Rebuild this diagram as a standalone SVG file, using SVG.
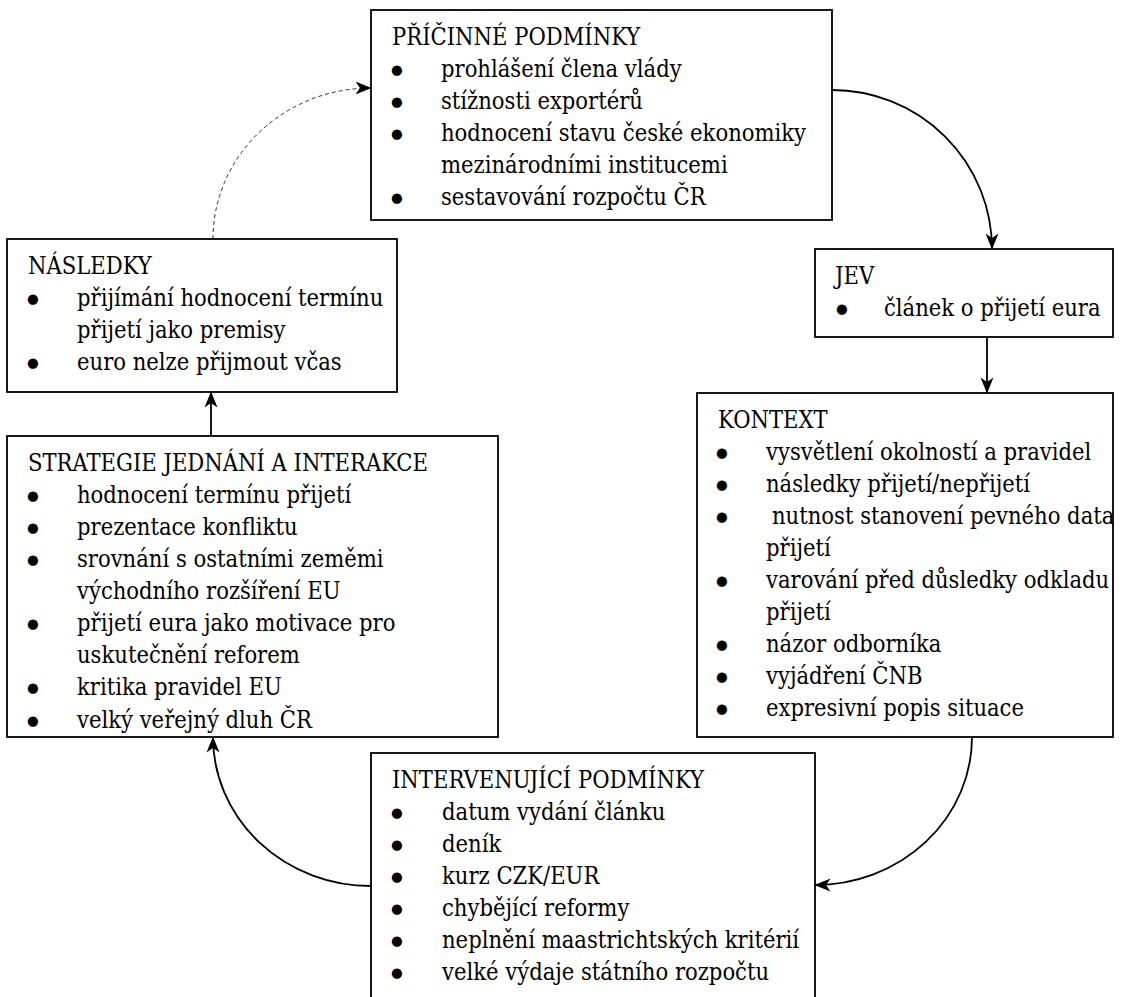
<svg xmlns="http://www.w3.org/2000/svg" width="1123" height="997" viewBox="0 0 1123 997">
<style>
.box{fill:#fff;stroke:#000;stroke-width:1.8}
.t{font-family:'DejaVu Serif Condensed','DejaVu Serif',serif;font-stretch:condensed;font-size:23.5px;fill:#000}
.b{font-family:'DejaVu Sans',sans-serif;font-size:13.5px;fill:#000;text-anchor:middle}
.c{fill:none;stroke:#000;stroke-width:1.8}
.d{fill:none;stroke:#333;stroke-width:1;stroke-dasharray:4 3}
</style>
<defs>
<marker id="arr" markerUnits="userSpaceOnUse" markerWidth="16" markerHeight="14" viewBox="0 0 16 14" refX="15.5" refY="7" orient="auto">
<path d="M0,0.5 L16,7 L0,13.5 L4.5,7 z" fill="#000"/>
</marker>
<clipPath id="clipS"><rect x="7" y="436" width="491" height="300"/></clipPath>
</defs>
<rect width="1123" height="997" fill="#fff"/>

<g id="connectors">
<path class="c" d="M832,90 A160,159 0 0 1 992,249" marker-end="url(#arr)"/>
<path class="c" d="M987,337 L987,393" marker-end="url(#arr)"/>
<path class="c" d="M972,737 A157,148 0 0 1 815,885" marker-end="url(#arr)"/>
<path class="c" d="M371,886 A158,149 0 0 1 213,737" marker-end="url(#arr)"/>
<path class="c" d="M211,436 L211,392" marker-end="url(#arr)"/>
<path class="d" d="M213,239 A158,151 0 0 1 371,88" marker-end="url(#arr)"/>
</g>

<g id="pricinne">
<rect class="box" x="371" y="10" width="461" height="210"/>
<text class="t" x="392" y="45">PŘÍČINNÉ PODMÍNKY</text>
<text class="b" x="397" y="74">●</text><text class="t" x="441" y="77">prohlášení člena vlády</text>
<text class="b" x="397" y="106">●</text><text class="t" x="441" y="109">stížnosti exportérů</text>
<text class="b" x="397" y="138">●</text><text class="t" x="441" y="141">hodnocení stavu české ekonomiky</text>
<text class="t" x="441" y="173">mezinárodními institucemi</text>
<text class="b" x="397" y="202">●</text><text class="t" x="441" y="205">sestavování rozpočtu ČR</text>
</g>

<g id="jev">
<rect class="box" x="815" y="249" width="298" height="88"/>
<text class="t" x="835" y="284">JEV</text>
<text class="b" x="842" y="313">●</text><text class="t" x="884" y="316">článek o přijetí eura</text>
</g>

<g id="kontext">
<rect class="box" x="697" y="393" width="416" height="344"/>
<text class="t" x="718" y="428">KONTEXT</text>
<text class="b" x="722" y="457">●</text><text class="t" x="766" y="460">vysvětlení okolností a pravidel</text>
<text class="b" x="722" y="489">●</text><text class="t" x="766" y="492">následky přijetí/nepřijetí</text>
<text class="b" x="722" y="521">●</text><text class="t" x="772" y="524">nutnost stanovení pevného data</text>
<text class="t" x="766" y="556">přijetí</text>
<text class="b" x="722" y="585">●</text><text class="t" x="766" y="588">varování před důsledky odkladu</text>
<text class="t" x="766" y="620">přijetí</text>
<text class="b" x="722" y="649">●</text><text class="t" x="766" y="652">názor odborníka</text>
<text class="b" x="722" y="681">●</text><text class="t" x="766" y="684">vyjádření ČNB</text>
<text class="b" x="722" y="713">●</text><text class="t" x="766" y="716">expresivní popis situace</text>
</g>

<g id="intervenujici">
<rect class="box" x="371" y="753" width="444" height="260"/>
<text class="t" x="392" y="788">INTERVENUJÍCÍ PODMÍNKY</text>
<text class="b" x="397" y="817">●</text><text class="t" x="442" y="820">datum vydání článku</text>
<text class="b" x="397" y="849">●</text><text class="t" x="442" y="852">deník</text>
<text class="b" x="397" y="881">●</text><text class="t" x="442" y="884">kurz CZK/EUR</text>
<text class="b" x="397" y="913">●</text><text class="t" x="442" y="916">chybějící reformy</text>
<text class="b" x="397" y="945">●</text><text class="t" x="442" y="948">neplnění maastrichtských kritérií</text>
<text class="b" x="397" y="977">●</text><text class="t" x="442" y="980">velké výdaje státního rozpočtu</text>
</g>

<g id="strategie">
<rect class="box" x="7" y="436" width="491" height="301"/>
<g clip-path="url(#clipS)">
<text class="t" x="28" y="471">STRATEGIE JEDNÁNÍ A INTERAKCE</text>
<text class="b" x="33" y="500">●</text><text class="t" x="77" y="503">hodnocení termínu přijetí</text>
<text class="b" x="33" y="532">●</text><text class="t" x="77" y="535">prezentace konfliktu</text>
<text class="b" x="33" y="564">●</text><text class="t" x="77" y="567">srovnání s ostatními zeměmi</text>
<text class="t" x="77" y="599">východního rozšíření EU</text>
<text class="b" x="33" y="628">●</text><text class="t" x="77" y="631">přijetí eura jako motivace pro</text>
<text class="t" x="77" y="663">uskutečnění reforem</text>
<text class="b" x="33" y="692">●</text><text class="t" x="77" y="695">kritika pravidel EU</text>
<text class="b" x="33" y="725">●</text><text class="t" x="77" y="728">velký veřejný dluh ČR</text>
</g>
</g>

<g id="nasledky">
<rect class="box" x="7" y="239" width="390" height="153"/>
<text class="t" x="28" y="274">NÁSLEDKY</text>
<text class="b" x="33" y="303">●</text><text class="t" x="77" y="306">přijímání hodnocení termínu</text>
<text class="t" x="77" y="338">přijetí jako premisy</text>
<text class="b" x="33" y="367">●</text><text class="t" x="77" y="370">euro nelze přijmout včas</text>
</g>
</svg>
